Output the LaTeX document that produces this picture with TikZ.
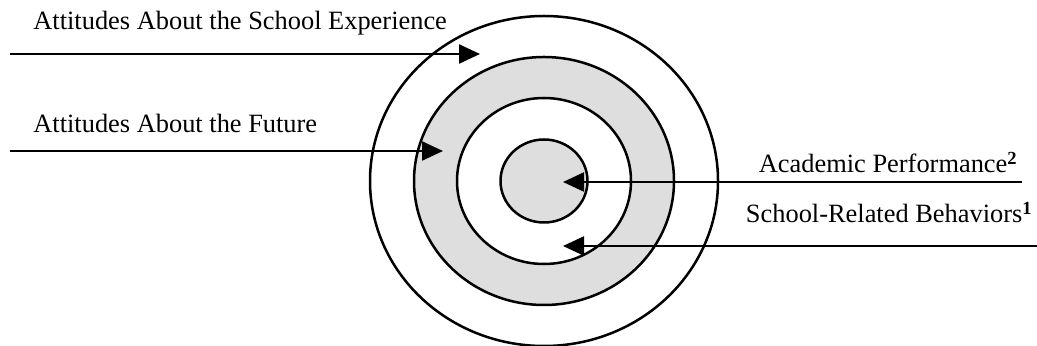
\documentclass[tikz,border=0pt]{standalone}
\usepackage{fontspec}
\setmainfont{Liberation Serif}
\usetikzlibrary{arrows.meta,shapes.geometric}

\begin{document}
\begin{tikzpicture}[
  x=0.5pt,y=-0.5pt,
  >={Triangle[length=10.5pt,width=9.5pt]},
  ring/.style={ellipse,draw,line width=1.25pt,inner sep=0pt,outer sep=0pt},
  dotted fill/.style={fill=black!13},
  label/.style={inner sep=0pt,font=\fontsize{13.2}{16}\selectfont},
  pointer/.style={->,line width=1.2pt}
]
  \useasboundingbox (0,0) rectangle (1037,346);
  \coordinate (c) at (544,181);

  % the four rings, outside in
  \node[ring,minimum width=174pt,minimum height=165pt] (experience) at (c) {};
  \node[ring,dotted fill,minimum width=130pt,minimum height=124pt] (future) at (c) {};
  \node[ring,fill=white,minimum width=87pt,minimum height=83pt] (behaviors) at (c) {};
  \node[ring,dotted fill,minimum width=43.5pt,minimum height=41.5pt] (performance) at (c) {};

  % labels
  \node[label,anchor=base west] (experience-text) at (33,30)
    {Attitudes About the School Experience};
  \node[label,anchor=base west] (future-text) at (33,133)
    {Attitudes About the Future};
  \node[label,anchor=base east] (performance-text) at (1018,173)
    {Academic Performance\textsuperscript{\textbf{2}}};
  \node[label,anchor=base east] (behaviors-text) at (1033,223)
    {School-Related Behaviors\textsuperscript{\textbf{1}}};

  % arrows into the rings
  \coordinate (experience-in) at (10,54);
  \coordinate (experience-tip) at (480,54);
  \coordinate (future-in) at (10,151);
  \coordinate (future-tip) at (443,151);
  \coordinate (performance-in) at (1022,182);
  \coordinate (performance-tip) at (563,182);
  \coordinate (behaviors-in) at (1037,246);
  \coordinate (behaviors-tip) at (563,246);

  \draw[pointer] (experience-in) -- (experience-tip);
  \draw[pointer] (future-in) -- (future-tip);
  \draw[pointer] (performance-in) -- (performance-tip);
  \draw[pointer] (behaviors-in) -- (behaviors-tip);
\end{tikzpicture}
\end{document}
